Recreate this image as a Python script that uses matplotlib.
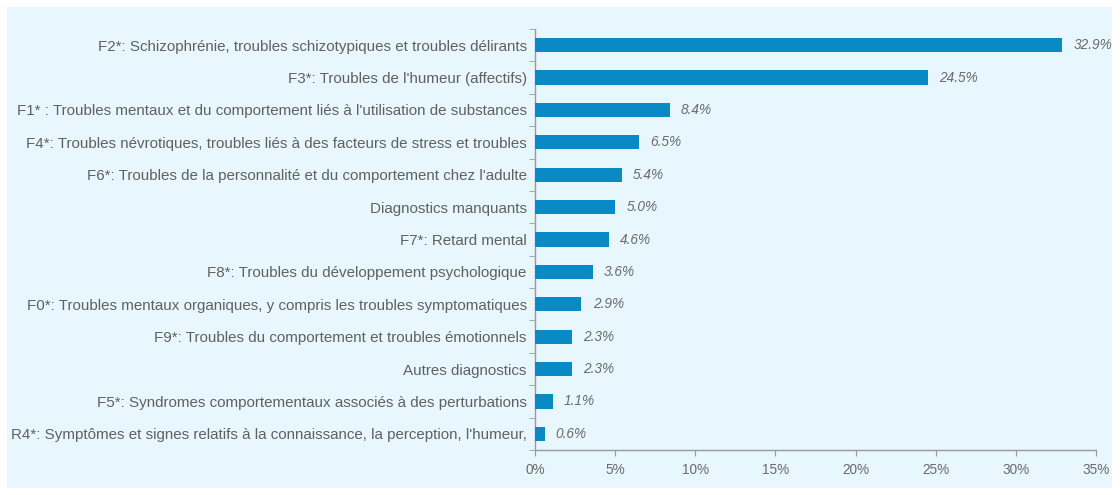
import matplotlib
matplotlib.use("Agg")
import matplotlib.pyplot as plt
from matplotlib.patches import Rectangle
from matplotlib.ticker import FixedLocator

categories = [
    "F2*: Schizophrénie, troubles schizotypiques et troubles délirants",
    "F3*: Troubles de l'humeur (affectifs)",
    "F1* : Troubles mentaux et du comportement liés à l'utilisation de substances",
    "F4*: Troubles névrotiques, troubles liés à des facteurs de stress et troubles",
    "F6*: Troubles de la personnalité et du comportement chez l'adulte",
    "Diagnostics manquants",
    "F7*: Retard mental",
    "F8*: Troubles du développement psychologique",
    "F0*: Troubles mentaux organiques, y compris les troubles symptomatiques",
    "F9*: Troubles du comportement et troubles émotionnels",
    "Autres diagnostics",
    "F5*: Syndromes comportementaux associés à des perturbations",
    "R4*: Symptômes et signes relatifs à la connaissance, la perception, l'humeur,",
]
values = [32.9, 24.5, 8.4, 6.5, 5.4, 5.0, 4.6, 3.6, 2.9, 2.3, 2.3, 1.1, 0.6]
value_labels = ["32.9%", "24.5%", "8.4%", "6.5%", "5.4%", "5.0%", "4.6%",
                "3.6%", "2.9%", "2.3%", "2.3%", "1.1%", "0.6%"]
xticks = [0, 5, 10, 15, 20, 25, 30, 35]
xtick_labels = ["0%", "5%", "10%", "15%", "20%", "25%", "30%", "35%"]

plt.rcParams['font.family'] = ['Liberation Sans', 'DejaVu Sans']

bg = "#e8f7fd"
fig = plt.figure(figsize=(11.2, 4.95), dpi=100, facecolor="white")
fig.patches.append(Rectangle((7/1120, 7/495), 1105/1120, 481/495,
                             transform=fig.transFigure, facecolor=bg,
                             edgecolor="none", zorder=-10))
ax = fig.add_axes([535/1120, 1-450/495, 561/1120, 421/495])
ax.set_zorder(5)
ax.set_facecolor("none")

n = len(categories)
ypos = list(range(n))
ax.barh(ypos, values, height=0.44, color="#0a8ac4", zorder=3)
ax.set_ylim(n - 0.5, -0.5)
ax.set_xlim(0, 35)

for y, v, lab in zip(ypos, values, value_labels):
    ax.text(v + 0.7, y, lab, va="center", ha="left", fontsize=9.8,
            style="italic", color="#6a6a6a")

ax.set_yticks(ypos)
ax.set_yticklabels(categories, fontsize=10.9, color="#606060")
ax.tick_params(axis="y", which="major", length=0, pad=6)
ax.yaxis.set_minor_locator(FixedLocator([i - 0.5 for i in range(n + 1)]))
ax.tick_params(axis="y", which="minor", length=4, color="#999999")

ax.set_xticks(xticks)
ax.set_xticklabels(xtick_labels, fontsize=9.8, color="#6a6a6a")
ax.tick_params(axis="x", which="major", length=4, color="#999999", pad=5)

for s in ["top", "right"]:
    ax.spines[s].set_visible(False)
for s in ["left", "bottom"]:
    ax.spines[s].set_color("#999999")
    ax.spines[s].set_linewidth(1.0)

fig.savefig("out.png", dpi=100, facecolor="white")
